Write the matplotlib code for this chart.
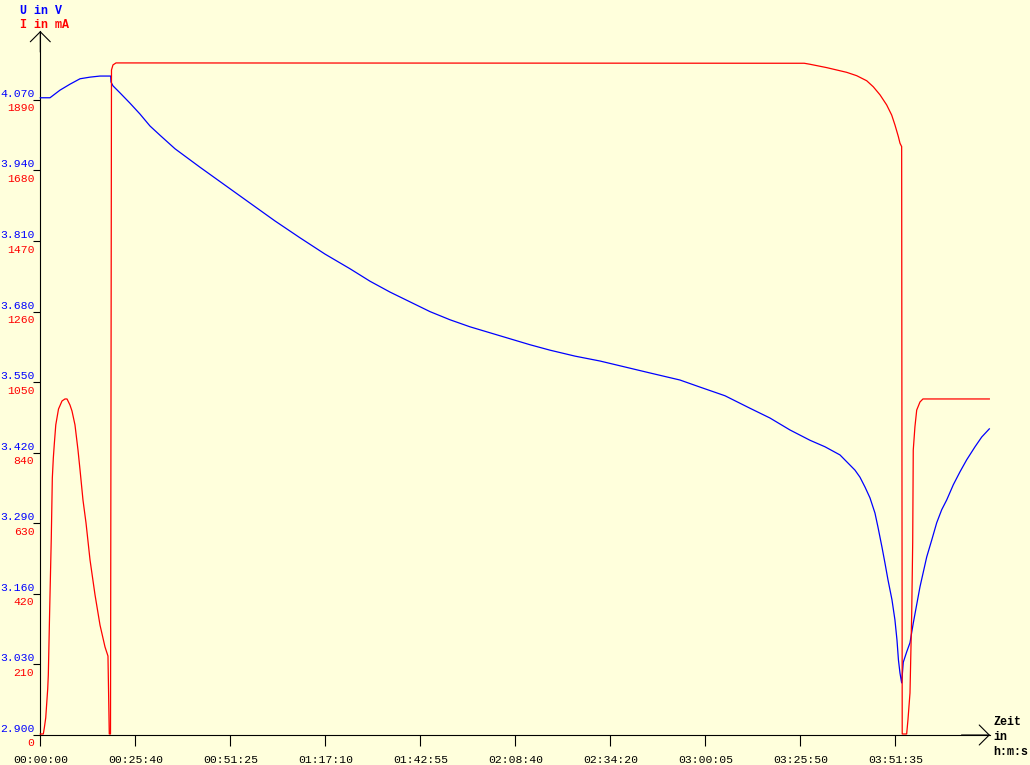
import matplotlib
matplotlib.use("Agg")
import matplotlib.pyplot as plt
from matplotlib.transforms import blended_transform_factory

# ---------------- data ----------------
# voltage trace: time in seconds, U in V
u_time = [0, 157, 319, 481, 644, 806, 968, 1141, 1146, 1178, 1292, 1454, 1616, 1778,
          1940, 2184, 2589, 2994, 3399, 3805, 4210, 4615, 5020, 5345, 5669, 5993,
          6317, 6641, 6966, 7290, 7614, 7938, 8262, 8668, 9073, 9478, 9883, 10369,
          10693, 11099, 11504, 11828, 12152, 12477, 12720, 12963, 13206, 13287, 13368,
          13449, 13530, 13579, 13644, 13692, 13741, 13806, 13854, 13887, 13911, 13936,
          13963, 13989, 14044, 14098, 14151, 14260, 14369, 14450, 14531, 14612, 14693,
          14800, 14909, 15017, 15152, 15261, 15384]
u_volt = [4.074, 4.074, 4.088, 4.099, 4.109, 4.112, 4.114, 4.114, 4.103, 4.096, 4.083,
          4.064, 4.044, 4.022, 4.005, 3.980, 3.946, 3.913, 3.880, 3.847, 3.816, 3.786,
          3.759, 3.736, 3.716, 3.698, 3.680, 3.665, 3.652, 3.641, 3.630, 3.619, 3.609,
          3.598, 3.589, 3.578, 3.567, 3.554, 3.541, 3.525, 3.502, 3.484, 3.462, 3.443,
          3.431, 3.416, 3.388, 3.375, 3.357, 3.337, 3.309, 3.283, 3.246, 3.217, 3.186,
          3.149, 3.112, 3.075, 3.038, 3.014, 2.996, 3.034, 3.053, 3.070, 3.106, 3.173,
          3.228, 3.259, 3.291, 3.315, 3.333, 3.361, 3.385, 3.407, 3.431, 3.449, 3.464]

# current trace: time in seconds, I in mA
i_time = [0, 49, 65, 88, 120, 130, 152, 178, 195, 211, 227, 251, 295, 352, 400, 433,
          481, 514, 562, 611, 644, 692, 741, 806, 887, 968, 1049, 1097, 1118, 1138,
          1154, 1178, 1227, 12384, 12477, 12586, 12748, 12910, 13072, 13234, 13396,
          13503, 13612, 13720, 13801, 13855, 13909, 13936, 13963, 13972, 14044, 14065,
          14098, 14126, 14142, 14151, 14178, 14207, 14260, 14308, 15384]
i_ma = [3, 3, 21, 51, 137, 179, 372, 586, 765, 824, 866, 923, 970, 994, 1000, 1000,
        982, 964, 923, 848, 789, 699, 631, 521, 417, 327, 262, 235, 3, 3,
        1979, 1994, 2000, 1999, 1996, 1992, 1986, 1979, 1972, 1962, 1947,
        1929, 1905, 1875, 1845, 1815, 1781, 1761, 1751, 3, 3, 45,
        125, 363, 574, 848, 917, 967, 991, 1000, 1000]

u_ticks = [2.900, 3.030, 3.160, 3.290, 3.420, 3.550, 3.680, 3.810, 3.940, 4.070]
i_ticks = [0, 210, 420, 630, 840, 1050, 1260, 1470, 1680, 1890]
t_ticks = [0, 1540, 3080, 4620, 6160, 7700, 9240, 10780, 12320, 13860]
t_labels = ["00:00:00", "00:25:40", "00:51:25", "01:17:10", "01:42:55",
            "02:08:40", "02:34:20", "03:00:05", "03:25:50", "03:51:35"]

# ---------------- style ----------------
BG = "#FFFFDC"
BLUE = "#0000FF"
RED = "#FF0000"
FONT = "Liberation Mono"
FS = 8.2

W, H = 1030, 765
fig = plt.figure(figsize=(W / 100, H / 100), dpi=100, facecolor=BG)
x0, x1, y0, ytop = 40.3, 990, 735, 31
ax = fig.add_axes([x0 / W, (H - y0) / H, (x1 - x0) / W, (y0 - ytop) / H])
ax.set_facecolor(BG)
ax.set_xlim(0, 15395)
ax.set_ylim(2.9, 4.197)

ax2 = ax.twinx()
ax2.set_ylim(0, 2095)
for s in ax2.spines.values():
    s.set_visible(False)
ax2.set_yticks([])

for name in ("top", "right"):
    ax.spines[name].set_visible(False)
for name in ("left", "bottom"):
    ax.spines[name].set_linewidth(0.8)
    ax.spines[name].set_color("black")

ax.set_yticks(u_ticks)
ax.set_xticks(t_ticks)
ax.tick_params(axis="y", direction="out", length=5, width=0.8, color="black",
               labelleft=False)
ax.tick_params(axis="x", direction="out", length=8, width=0.8, color="black",
               labelbottom=False)

# lines
ax.plot(u_time, u_volt, color=BLUE, lw=0.9, clip_on=False, zorder=3)
ax2.plot(i_time, i_ma, color=RED, lw=0.9, clip_on=False, zorder=3)

# arrow heads
arrow = dict(arrowstyle="->,head_length=0.72,head_width=0.72", color="black",
             lw=0.8, shrinkA=0, shrinkB=0)
ax.annotate("", xy=(0, 1), xycoords="axes fraction", xytext=(0, 0.97),
            textcoords="axes fraction", arrowprops=arrow, annotation_clip=False)
ax.annotate("", xy=(1, 0), xycoords="axes fraction", xytext=(0.97, 0),
            textcoords="axes fraction", arrowprops=arrow, annotation_clip=False)

# y tick labels
trans_y = blended_transform_factory(ax.transAxes, ax.transData)
trans_y2 = blended_transform_factory(ax.transAxes, ax2.transData)
for v in u_ticks:
    ax.annotate(f"{v:.3f}", xy=(0, v), xycoords=trans_y, xytext=(-6, 3),
                textcoords="offset pixels", ha="right", va="baseline",
                color=BLUE, fontsize=FS, family=FONT, annotation_clip=False)
for c in i_ticks:
    ax.annotate(f"{c}", xy=(0, c), xycoords=trans_y2, xytext=(-6, -11.5),
                textcoords="offset pixels", ha="right", va="baseline",
                color=RED, fontsize=FS, family=FONT, annotation_clip=False)

# x tick labels
trans_x = blended_transform_factory(ax.transData, ax.transAxes)
for t, lab in zip(t_ticks, t_labels):
    ax.annotate(lab, xy=(t, 0), xycoords=trans_x, xytext=(0, -28),
                textcoords="offset pixels", ha="center", va="baseline",
                color="black", fontsize=FS, family=FONT, annotation_clip=False)

# axis titles
fig.text(20 / W, 1 - 13.5 / H, "U in V", color=BLUE, fontsize=8.4, family=FONT,
         fontweight="bold", ha="left", va="baseline")
fig.text(20 / W, 1 - 27.5 / H, "I in mA", color=RED, fontsize=8.4, family=FONT,
         fontweight="bold", ha="left", va="baseline")
for txt, yb in (("Zeit", 725), ("in", 740), ("h:m:s", 755)):
    fig.text(993 / W, 1 - yb / H, txt, color="black", fontsize=8.4, family=FONT,
             fontweight="bold", ha="left", va="baseline")

fig.savefig("out.png", dpi=100, facecolor=BG)
